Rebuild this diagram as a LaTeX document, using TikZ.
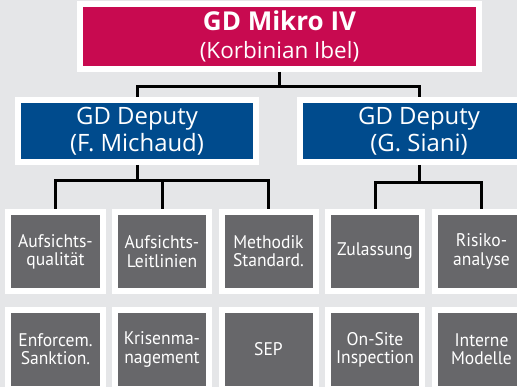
\documentclass[tikz,border=0pt]{standalone}
\usepackage{fontspec}
\setmainfont{Open Sans}
\newfontfamily\narrowfont[FakeStretch=0.96]{PT Sans}
\usetikzlibrary{positioning}
\definecolor{ecbred}{HTML}{C80A50}
\definecolor{ecbblue}{HTML}{004B8D}
\definecolor{unitgrey}{HTML}{67676A}
\definecolor{bggrey}{HTML}{E5E6E8}

\begin{document}
\begin{tikzpicture}[node distance=0.1625cm,
    chief/.style={rectangle, draw=white, line width=0.15cm, fill=ecbred, text=white, align=center, minimum width=9.975cm, minimum height=1.625cm, font=\fontsize{18.5}{19.5}\selectfont},
    deputy/.style={rectangle, draw=white, line width=0.15cm, fill=ecbblue, text=white, align=center, minimum width=5.95cm, minimum height=1.55cm, font=\fontsize{17}{19}\selectfont},
    unit/.style={rectangle, draw=white, line width=0.15cm, fill=unitgrey, text=white, align=center, minimum width=2.35cm, minimum height=1.975cm, font=\narrowfont\fontsize{13}{13}\selectfont},
    conn/.style={draw=black, line width=0.075cm}]

    \fill[bggrey] (0,0) rectangle (12.925,-9.675);
    \useasboundingbox (0,0) rectangle (12.925,-9.675);

    \node[chief] (head) at (6.9875,-0.9125) {{\bfseries GD Mikro IV}\\{\fontsize{16}{19.5}\selectfont (Korbinian Ibel)}};
    \node[deputy] (depL) at (3.425,-3.275) {GD Deputy\\(F. Michaud)};
    \node[deputy, right=0.95cm of depL] (depR) {GD Deputy\\(G. Siani)};

    % first row
    \node[unit] (quali) at (1.3875,-6.2875) {Aufsichts-\\qualität};
    \node[unit, right=of quali] (leit) {Aufsichts-\\Leitlinien};
    \node[unit, right=of leit] (method) {Methodik\\Standard.};
    \node[unit, right=of method] (zul) {Zulassung};
    \node[unit, right=of zul] (risk) {Risiko-\\analyse};

    % second row
    \node[unit, below=0.325cm of quali] (enf) {Enforcem.\\Sanktion.};
    \node[unit, below=0.325cm of leit] (krise) {Krisenma-\\nagement};
    \node[unit, below=0.325cm of method] (sep) {SEP};
    \node[unit, below=0.325cm of zul] (onsite) {On-Site\\Inspection};
    \node[unit, below=0.325cm of risk] (intern) {Interne\\Modelle};

    \draw[conn] (head.south) -- ++(0,-0.375) coordinate (headj);
    \draw[conn] (headj) -| (depL.north);
    \draw[conn] (headj) -| (depR.north);

    \draw[conn] (depL.south) -- ++(0,-0.4) coordinate (leftj);
    \draw[conn] (leftj) -| (quali.north);
    \draw[conn] (leftj) -| (leit.north);
    \draw[conn] (leftj) -| (method.north);

    \draw[conn] (depR.south) -- ++(0,-0.45) coordinate (rightj);
    \draw[conn] (rightj) -| (zul.north);
    \draw[conn] (rightj) -| (risk.north);
\end{tikzpicture}
\end{document}
